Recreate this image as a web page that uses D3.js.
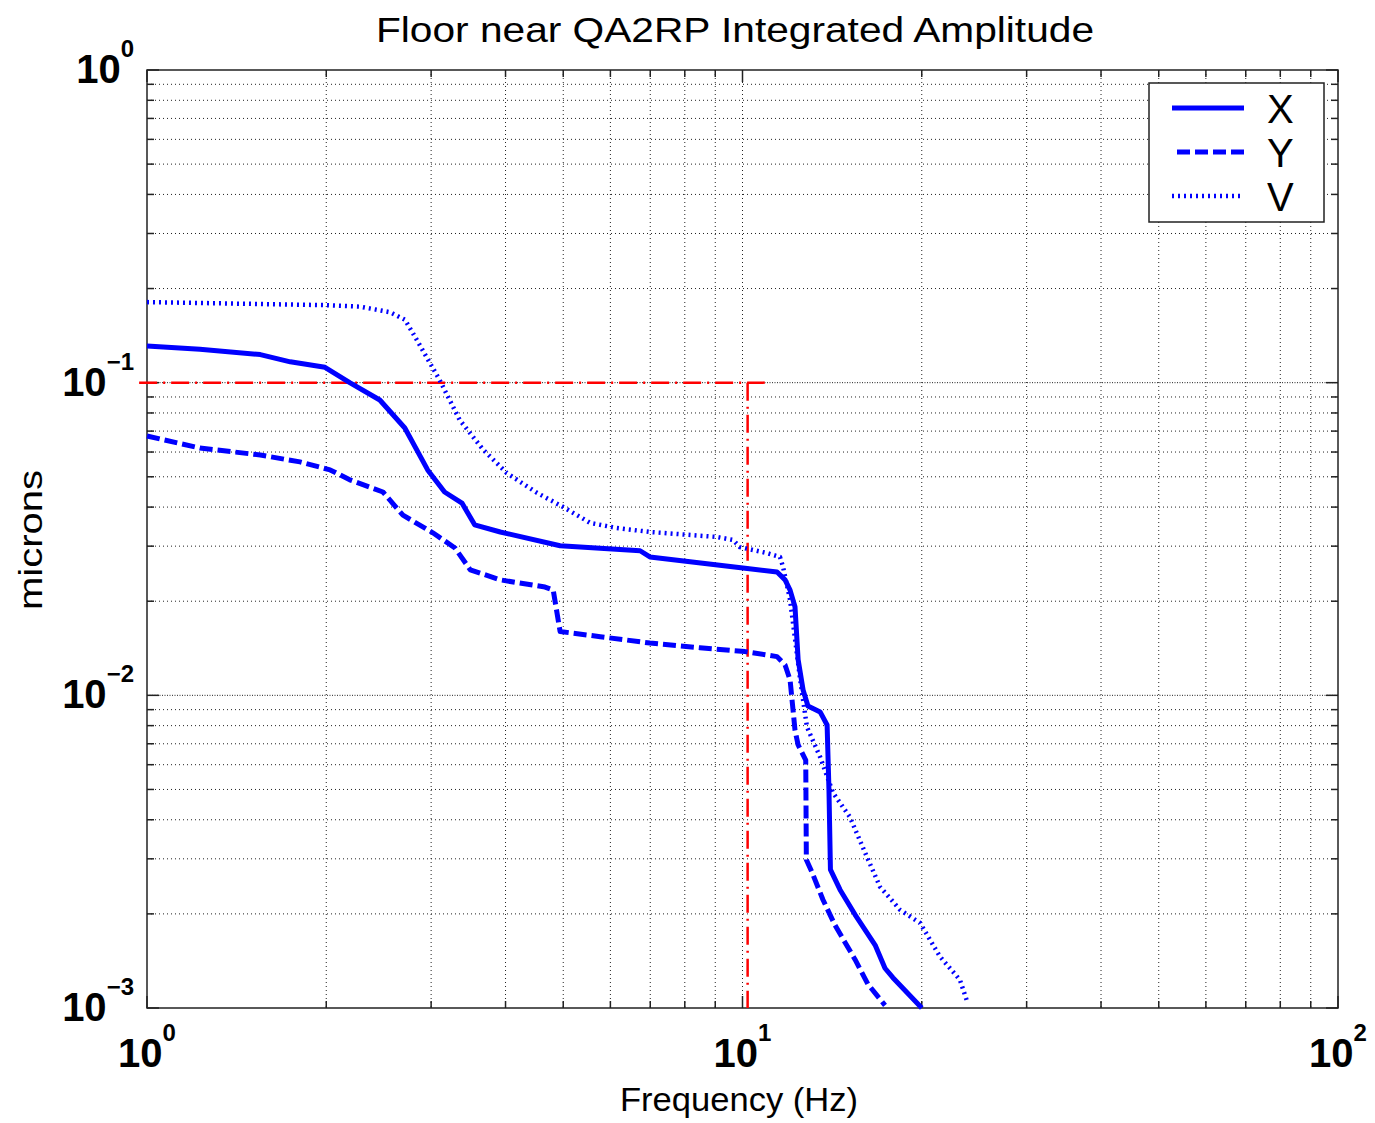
<!DOCTYPE html>
<html>
<head>
<meta charset="utf-8">
<script src="https://cdn.jsdelivr.net/npm/d3@7"></script>
<style>
  body { margin: 0; background: #fff; }
  text { font-family: "Liberation Sans", Arial, sans-serif; fill: #000; }
</style>
</head>
<body>
<div class="container"></div>
<script>
// ---------------------------------------------
// Data
// ---------------------------------------------
var freqX = [1.0, 1.227, 1.55, 1.74, 1.99, 2.19, 2.46, 2.71, 2.96, 3.16, 3.38, 3.55, 3.92, 4.94, 6.73, 6.99, 10.1, 11.43, 11.79, 12.02, 12.25, 12.4, 12.64, 12.88, 13.5, 13.87, 13.97, 14.05, 14.58, 15.45, 16.7, 17.35, 17.89, 20.0];
var ampX  = [0.131, 0.128, 0.123, 0.1166, 0.112, 0.1, 0.088, 0.0716, 0.0526, 0.0447, 0.0412, 0.0351, 0.0333, 0.0301, 0.029, 0.0277, 0.0255, 0.0248, 0.0234, 0.0217, 0.0192, 0.013, 0.0104, 0.00925, 0.00885, 0.00804, 0.00498, 0.00277, 0.00239, 0.00199, 0.00159, 0.00134, 0.00125, 0.001];

var freqY = [1.0, 1.227, 1.55, 1.807, 2.03, 2.19, 2.49, 2.69, 3.02, 3.29, 3.49, 3.92, 4.66, 4.81, 4.94, 5.77, 6.99, 8.48, 10.1, 11.43, 11.79, 12.02, 12.25, 12.4, 12.77, 12.8, 13.08, 13.65, 14.3, 15.45, 16.25, 17.35];
var ampY  = [0.0675, 0.0618, 0.0587, 0.0558, 0.0526, 0.0489, 0.0447, 0.0377, 0.0331, 0.0296, 0.0252, 0.0234, 0.0222, 0.0217, 0.016, 0.0154, 0.0147, 0.0142, 0.0138, 0.0133, 0.0125, 0.0112, 0.00775, 0.00694, 0.00621, 0.00298, 0.00272, 0.00222, 0.00184, 0.00143, 0.00119, 0.00102];

var freqV = [1.0, 1.99, 2.28, 2.56, 2.71, 2.79, 2.87, 3.1, 3.35, 3.67, 4.02, 4.52, 5.0, 5.55, 6.15, 6.99, 9.06, 9.64, 9.9, 11.0, 11.56, 11.7, 12.02, 12.5, 12.83, 13.5, 14.19, 15.15, 16.18, 17.02, 18.39, 19.87, 21.46, 23.18, 23.83];
var ampV  = [0.181, 0.177, 0.175, 0.168, 0.159, 0.145, 0.132, 0.102, 0.076, 0.061, 0.0514, 0.0444, 0.04, 0.0356, 0.0343, 0.0333, 0.0321, 0.0314, 0.0298, 0.0285, 0.0277, 0.0257, 0.0202, 0.0112, 0.00792, 0.00635, 0.00488, 0.00408, 0.00304, 0.00244, 0.00206, 0.00187, 0.00146, 0.00123, 0.00105];

// red reference marker (dash-dot)
var refHFreq = [0.97, 10.9];
var refHAmp  = [0.1, 0.1];
var refVFreq = [10.2, 10.2];
var refVAmp  = [0.1, 0.001];

var xTicks = [1, 10, 100];
var xTickExp = ["0", "1", "2"];
var yTicks = [1, 0.1, 0.01, 0.001];
var yTickExp = ["0", "\u22121", "\u22122", "\u22123"];

var seriesNames = ["X", "Y", "V"];

//=================================================
// Dimensions
//=================================================
var width = 1375,
  height = 1123,
  pLeft = 147, pRight = 1338, pTop = 70, pBottom = 1008;

var svg = d3.select(".container").
append("svg").
attr("width", width).
attr("height", height);

var xScale = d3.scaleLog().domain([1, 100]).range([pLeft, pRight]);
var yScale = d3.scaleLog().domain([0.001, 1]).range([pBottom, pTop]);

// minor values for grid / ticks
var xMinor = [], yMinor = [];
[1, 10].forEach(function (d) { for (var k = 2; k <= 9; k++) xMinor.push(d * k); });
[0.001, 0.01, 0.1].forEach(function (d) { for (var k = 2; k <= 9; k++) yMinor.push(d * k); });

//=================================================
// Grid
//=================================================
var grid = svg.append("g").attr("stroke", "#222").attr("stroke-width", 1);

grid.selectAll(".gx").data(xMinor.concat(xTicks.slice(1, 2))).enter().append("line").
attr("x1", d => xScale(d)).attr("x2", d => xScale(d)).
attr("y1", pTop).attr("y2", pBottom).
attr("stroke-dasharray", "1,3");

grid.selectAll(".gy").data(yMinor).enter().append("line").
attr("x1", pLeft).attr("x2", pRight).
attr("y1", d => yScale(d)).attr("y2", d => yScale(d)).
attr("stroke-dasharray", "1,3");

grid.selectAll(".gyM").data(yTicks.slice(1, 3)).enter().append("line").
attr("x1", pLeft).attr("x2", pRight).
attr("y1", d => yScale(d)).attr("y2", d => yScale(d)).
attr("stroke-dasharray", "1,1.5");

//=================================================
// Axes (ticks inside, on all four sides)
//=================================================
function tickLines(g, vals, len, horizontal) {
  vals.forEach(function (v) {
    if (horizontal) {
      var x = xScale(v);
      g.append("line").attr("x1", x).attr("x2", x).attr("y1", pBottom).attr("y2", pBottom - len);
      g.append("line").attr("x1", x).attr("x2", x).attr("y1", pTop).attr("y2", pTop + len);
    } else {
      var y = yScale(v);
      g.append("line").attr("y1", y).attr("y2", y).attr("x1", pLeft).attr("x2", pLeft + len);
      g.append("line").attr("y1", y).attr("y2", y).attr("x1", pRight).attr("x2", pRight - len);
    }
  });
}
var ticks = svg.append("g").attr("stroke", "#222").attr("stroke-width", 1.5);
tickLines(ticks, xMinor, 7, true);
tickLines(ticks, xTicks, 12, true);
tickLines(ticks, yMinor, 7, false);
tickLines(ticks, yTicks, 12, false);

svg.append("rect").
attr("x", pLeft).attr("y", pTop).
attr("width", pRight - pLeft).attr("height", pBottom - pTop).
attr("fill", "none").attr("stroke", "#222").attr("stroke-width", 1.5);

// tick labels
var xLab = svg.append("g").selectAll("text").data(xTicks).enter().append("text").
attr("x", d => xScale(d)).attr("y", 1067).
attr("text-anchor", "middle").
style("font-size", "40px").style("font-weight", "bold");
xLab.append("tspan").text("10");
xLab.append("tspan").attr("dy", -26).style("font-size", "24px").text((d, i) => xTickExp[i]);

var yLab = svg.append("g").selectAll("text").data(yTicks).enter().append("text").
attr("x", 134).attr("y", d => yScale(d) + 13).
attr("text-anchor", "end").
style("font-size", "40px").style("font-weight", "bold");
yLab.append("tspan").text("10");
yLab.append("tspan").attr("dy", -26).style("font-size", "24px").text((d, i) => yTickExp[i]);

//=================================================
// Lines
//=================================================
var line = d3.line().x(d => xScale(d[0])).y(d => yScale(d[1]));

function zip(a, b) { return a.map((v, i) => [v, b[i]]); }

svg.append("path").datum(zip(refHFreq, refHAmp)).
attr("d", line).attr("fill", "none").attr("stroke", "#ff0000").
attr("stroke-width", 2.5).attr("stroke-dasharray", "18,6,2,6");
svg.append("path").datum(zip(refVFreq, refVAmp)).
attr("d", line).attr("fill", "none").attr("stroke", "#ff0000").
attr("stroke-width", 2.5).attr("stroke-dasharray", "18,6,2,6");

var styles = [
  { w: 5, dash: null },
  { w: 5, dash: "13,5" },
  { w: 4.5, dash: "2,4" }
];
var series = [zip(freqX, ampX), zip(freqY, ampY), zip(freqV, ampV)];

series.forEach(function (s, i) {
  svg.append("path").datum(s).
  attr("d", line).attr("fill", "none").
  attr("stroke", "#0000ff").
  attr("stroke-width", styles[i].w).
  attr("stroke-linejoin", "round").
  attr("stroke-dasharray", styles[i].dash);
});

//=================================================
// Legend
//=================================================
var legend = svg.append("g");
legend.append("rect").
attr("x", 1149).attr("y", 83).attr("width", 175).attr("height", 139).
attr("fill", "#fff").attr("stroke", "#222").attr("stroke-width", 1.5);

seriesNames.forEach(function (name, i) {
  var y = 108 + i * 44;
  legend.append("line").
  attr("x1", i == 1 ? 1177 : 1172).attr("x2", 1244).attr("y1", y).attr("y2", y).
  attr("stroke", "#0000ff").
  attr("stroke-width", styles[i].w).
  attr("stroke-dasharray", styles[i].dash);
  legend.append("text").
  attr("x", 1267).attr("y", y + 15).
  style("font-size", "40px").
  text(name);
});

//=================================================
// Titles
//=================================================
svg.append("text").
attr("x", 735).attr("y", 42).
attr("text-anchor", "middle").
attr("textLength", 718).attr("lengthAdjust", "spacingAndGlyphs").
style("font-size", "35px").
text("Floor near QA2RP Integrated Amplitude");

svg.append("text").
attr("x", 739).attr("y", 1111).
attr("text-anchor", "middle").
attr("textLength", 238).attr("lengthAdjust", "spacingAndGlyphs").
style("font-size", "33px").
text("Frequency (Hz)");

svg.append("text").
attr("transform", "translate(42,540) rotate(-90)").
attr("text-anchor", "middle").
attr("textLength", 140).attr("lengthAdjust", "spacingAndGlyphs").
style("font-size", "33px").
text("microns");
</script>
</body>
</html>
